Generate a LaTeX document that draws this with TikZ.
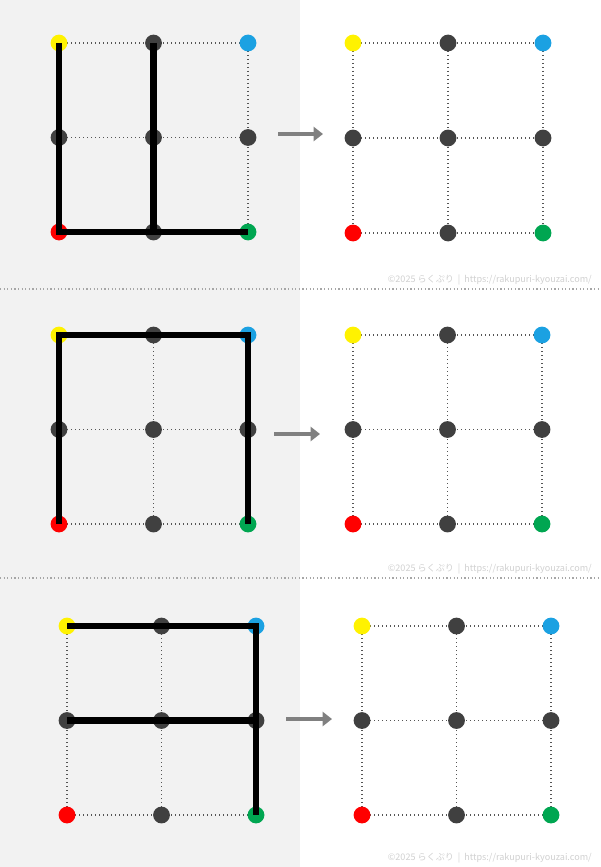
\documentclass[tikz,border=0pt]{standalone}
\usepackage{fontspec}
\newfontfamily\cjk{Noto Sans CJK JP}
\usetikzlibrary{arrows.meta}
\definecolor{panelgray}{HTML}{F2F2F2}
\definecolor{dotgray}{HTML}{404040}
\definecolor{gridgray}{HTML}{555555}
\definecolor{cyellow}{HTML}{FFF200}
\definecolor{cblue}{HTML}{1BA1E2}
\definecolor{cred}{HTML}{FF0000}
\definecolor{cgreen}{HTML}{00A651}
\definecolor{arrowgray}{HTML}{808080}
\definecolor{wmgray}{HTML}{D0D0D0}
\pgfdeclarelayer{bg}
\pgfsetlayers{bg,main}
\newcommand\mkgrid[4]{% #1 prefix, #2 x0, #3 y0, #4 spacing
  \node[dot,fill=cyellow] (#100) at (#2,#3) {};
  \node[dot] (#110) at (#2+#4,#3) {};
  \node[dot,fill=cblue] (#120) at (#2+2*#4,#3) {};
  \node[dot] (#101) at (#2,#3+#4) {};
  \node[dot] (#111) at (#2+#4,#3+#4) {};
  \node[dot] (#121) at (#2+2*#4,#3+#4) {};
  \node[dot,fill=cred] (#102) at (#2,#3+2*#4) {};
  \node[dot] (#112) at (#2+#4,#3+2*#4) {};
  \node[dot,fill=cgreen] (#122) at (#2+2*#4,#3+2*#4) {};
  \begin{pgfonlayer}{bg}
    \draw[gridline] (#100.center) -- (#120.center);
    \draw[gridline] (#101.center) -- (#121.center);
    \draw[gridline] (#102.center) -- (#122.center);
    \draw[gridline] (#100.center) -- (#102.center);
    \draw[gridline] (#110.center) -- (#112.center);
    \draw[gridline] (#120.center) -- (#122.center);
  \end{pgfonlayer}
}
\begin{document}
\begin{tikzpicture}[x=0.75pt,y=-0.75pt,
  dot/.style={circle,inner sep=0pt,minimum size=12.6pt,draw=none,fill=dotgray},
  gridline/.style={draw=gridgray,line width=0.9pt,dash pattern=on 0.9pt off 2.1pt},
  sepline/.style={draw=gray!70,line width=0.9pt,dash pattern=on 0.9pt off 1.8pt},
  thick line/.style={draw=black,line width=4.8pt,line join=miter,line cap=butt},
  bigarrow/.style={draw=arrowgray,line width=3.6pt,-{Triangle[length=7pt,width=10.5pt]}},
  wm/.style={text=wmgray,font=\cjk\fontsize{6.8pt}{8pt}\selectfont,inner sep=0pt,anchor=east}]
\useasboundingbox (0,0) rectangle (600,867);
\begin{pgfonlayer}{bg}
  \fill[panelgray] (0,0) rectangle (300,867);
  \draw[sepline] (0,289) -- (600,289);
  \draw[sepline] (0,578) -- (600,578);
\end{pgfonlayer}
% panel 1
\mkgrid{A}{59}{43}{94.5}
\mkgrid{B}{353}{43}{95}
\draw[thick line] (A00.center) -- (A02.center) -- (A22.center);
\draw[thick line] (A10.center) -- (A12.center);
\coordinate (ar1s) at (278,134);
\coordinate (ar1e) at (323,134);
\draw[bigarrow] (ar1s) -- (ar1e);
\node[wm] (wm1) at (592,280) {©2025 らくぷり \ \textbar\ \ https://rakupuri-kyouzai.com/};
% panel 2
\mkgrid{C}{59}{335}{94.5}
\mkgrid{D}{353}{335}{94.5}
\draw[thick line] (C02.center) -- (C00.center) -- (C20.center) -- (C22.center);
\coordinate (ar2s) at (274,434);
\coordinate (ar2e) at (320,434);
\draw[bigarrow] (ar2s) -- (ar2e);
\node[wm] (wm2) at (592,569) {©2025 らくぷり \ \textbar\ \ https://rakupuri-kyouzai.com/};
% panel 3
\mkgrid{E}{67}{626}{94.5}
\mkgrid{F}{362}{626}{94.5}
\draw[thick line] (E00.center) -- (E20.center) -- (E22.center);
\draw[thick line] (E01.center) -- (E21.center);
\coordinate (ar3s) at (286,719);
\coordinate (ar3e) at (332,719);
\draw[bigarrow] (ar3s) -- (ar3e);
\node[wm] (wm3) at (592,858) {©2025 らくぷり \ \textbar\ \ https://rakupuri-kyouzai.com/};
\end{tikzpicture}
\end{document}
